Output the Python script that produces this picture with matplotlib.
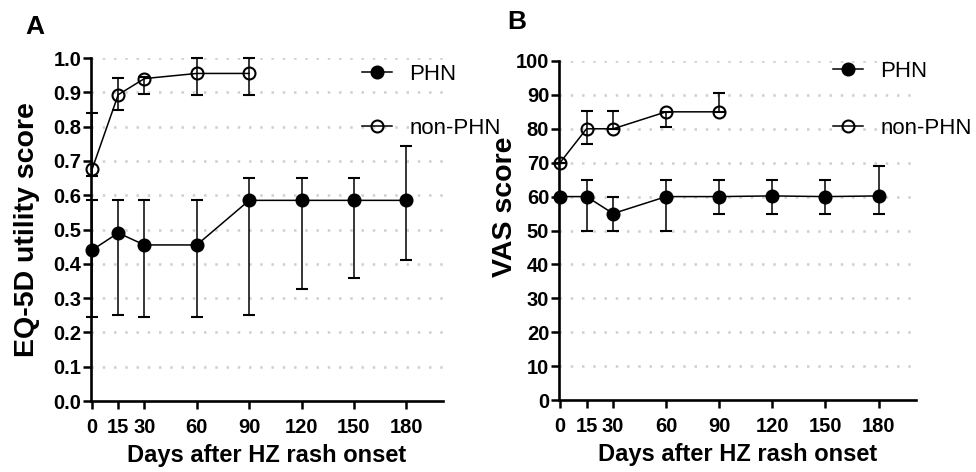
import matplotlib

matplotlib.use("Agg")
import matplotlib.pyplot as plt

plt.rcParams["font.family"] = ["Liberation Sans", "DejaVu Sans"]

# --- data ---------------------------------------------------------------
days_phn = [0, 15, 30, 60, 90, 120, 150, 180]
days_non = [0, 15, 30, 60, 90]

# Panel A: EQ-5D utility score (median with lower / upper error bounds)
eq_phn = [0.44, 0.49, 0.455, 0.455, 0.585, 0.585, 0.585, 0.585]
eq_phn_lo = [0.245, 0.25, 0.245, 0.245, 0.25, 0.327, 0.358, 0.41]
eq_phn_hi = [0.585, 0.585, 0.585, 0.585, 0.65, 0.65, 0.65, 0.743]

eq_non = [0.675, 0.893, 0.94, 0.955, 0.955]
eq_non_lo = [0.655, 0.848, 0.894, 0.893, 0.893]
eq_non_hi = [0.84, 0.942, 0.945, 1.0, 1.0]

# Panel B: VAS score
vas_phn = [60, 60, 55, 60, 60, 60.2, 60, 60.2]
vas_phn_lo = [60, 50, 50, 50, 55, 55, 55, 55]
vas_phn_hi = [60, 65, 60, 65, 65, 65, 65, 69]

vas_non = [70, 80, 80, 85, 85]
vas_non_lo = [70, 75.5, 80, 80.5, 85]
vas_non_hi = [70, 85.3, 85.3, 85, 90.5]

xticks = [0, 15, 30, 60, 90, 120, 150, 180]


def _err(vals, lo, hi):
    return [[v - l for v, l in zip(vals, lo)], [h - v for v, h in zip(vals, hi)]]


def _panel(ax, ymax, ystep, yfmt, ylabel, label_xy):
    ax.set_xlim(-0.6, 201)
    ax.set_ylim(0, ymax)
    ax.set_xticks(xticks)
    yt = [i * ystep for i in range(11)]
    ax.set_yticks(yt)
    ax.set_yticklabels([yfmt.format(v) for v in yt])
    for y in yt[1:]:
        ax.axhline(y, color="#cfcfcf", lw=1.8, ls=(0, (1, 3.5)), zorder=0)
    for s in ("top", "right"):
        ax.spines[s].set_visible(False)
    for s in ("left", "bottom"):
        ax.spines[s].set_linewidth(1.9)
    ax.tick_params(axis="y", direction="out", length=6, width=1.8, pad=1,
                   labelsize=14.5)
    ax.tick_params(axis="x", direction="out", length=6, width=1.8, pad=6,
                   labelsize=14.5)
    for lab in ax.get_xticklabels() + ax.get_yticklabels():
        lab.set_fontweight("bold")
    ax.set_xlabel("Days after HZ rash onset", fontsize=17, fontweight="bold",
                  labelpad=5)
    ax.set_ylabel(ylabel, fontsize=20.5, fontweight="bold")
    ax.yaxis.set_label_coords(*label_xy)


def _series(ax, x, y, lo, hi, filled):
    style = dict(color="black", lw=1.1, elinewidth=1.1, capsize=4.5,
                 capthick=1.1, marker="o", ms=8.6, mew=1.5, clip_on=False,
                 zorder=3)
    if filled:
        return ax.errorbar(x, y, yerr=_err(y, lo, hi), mfc="black", **style)
    return ax.errorbar(x, y, yerr=_err(y, lo, hi), mfc="none", **style)


fig = plt.figure(figsize=(9.76, 4.72), dpi=100)
axA = fig.add_axes([0.0932, 0.1504, 0.3607, 0.7267])
axB = fig.add_axes([0.5727, 0.1525, 0.3655, 0.7183])

hA1 = _series(axA, days_phn, eq_phn, eq_phn_lo, eq_phn_hi, True)
hA2 = _series(axA, days_non, eq_non, eq_non_lo, eq_non_hi, False)
_panel(axA, 1.0, 0.1, "{:.1f}", "EQ-5D utility score", (-0.145, 0.5))

hB1 = _series(axB, days_phn, vas_phn, vas_phn_lo, vas_phn_hi, True)
hB2 = _series(axB, days_non, vas_non, vas_non_lo, vas_non_hi, False)
_panel(axB, 100, 10, "{:.0f}", "VAS score", (-0.115, 0.57))

for ax, h1, h2, x0, y0, sp in ((axA, hA1, hA2, 362 / 976, 1 - 64 / 472, 1.48),
                               (axB, hB1, hB2, 833 / 976, 1 - 61 / 472, 1.62)):
    lines = [h1.lines[0], h2.lines[0]]
    ax.legend(lines, ["PHN", "non-PHN"], loc="upper left",
              bbox_to_anchor=(x0, y0), bbox_transform=fig.transFigure,
              frameon=False, fontsize=16, borderpad=0, borderaxespad=0,
              handlelength=1.35, handletextpad=0.77, labelspacing=sp)

fig.text(25 / 976, 1 - 27 / 472, "A", fontsize=19, fontweight="bold",
         va="center", ha="left")
fig.text(507 / 976, 1 - 22 / 472, "B", fontsize=19, fontweight="bold",
         va="center", ha="left")

fig.savefig("out.png", dpi=100)
